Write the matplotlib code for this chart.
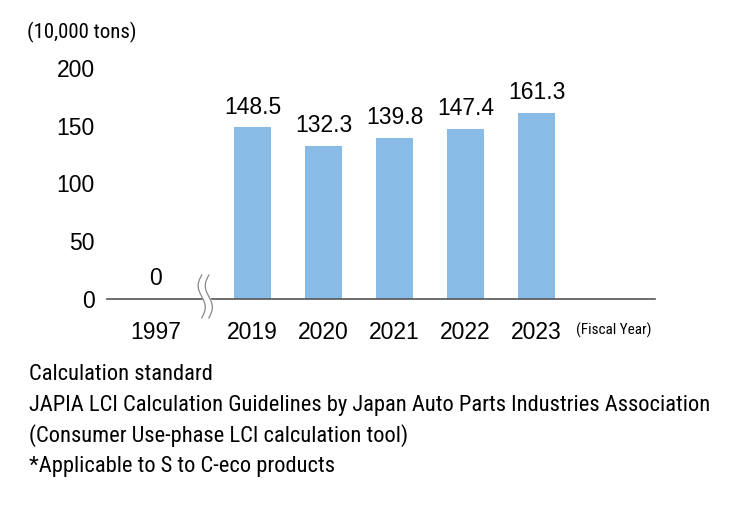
import numpy as np
import matplotlib
matplotlib.use("Agg")
import matplotlib.pyplot as plt

# data
years = ["1997", "2019", "2020", "2021", "2022", "2023"]
positions = [0, 1.37, 2.37, 3.37, 4.37, 5.37]
values = [0, 148.5, 132.3, 139.8, 147.4, 161.3]
value_labels = ["0", "148.5", "132.3", "139.8", "147.4", "161.3"]
yticks = [0, 50, 100, 150, 200]
notes = [
    "Calculation standard",
    "JAPIA LCI Calculation Guidelines by Japan Auto Parts Industries Association",
    "(Consumer Use-phase LCI calculation tool)",
    "*Applicable to S to C-eco products",
]

# condensed face for words, Arial-like face for numbers
plt.rcParams["font.family"] = ["Roboto Condensed", "DejaVu Sans"]
num_font = ["Liberation Sans", "DejaVu Sans"]

W, H = 732, 526
fig = plt.figure(figsize=(W / 100, H / 100), dpi=100)
ax = fig.add_axes([107 / W, 1 - 299 / H, (655 - 107) / W, (299 - 68) / H])

bar_color = "#88bbe6"
ax.bar(positions[1:], values[1:], width=0.51, color=bar_color, zorder=2)
ax.set_xlim(-0.68, 7.04)
ax.set_ylim(0, 200)

for s in ["top", "right", "left"]:
    ax.spines[s].set_visible(False)
ax.spines["bottom"].set_color("#555555")
ax.spines["bottom"].set_linewidth(1.2)

ax.set_yticks(yticks, [str(t) for t in yticks], fontsize=16.5, family=num_font)
ax.tick_params(axis="y", length=0, pad=9)
ax.set_xticks(positions, years, fontsize=16.5, family=num_font)
ax.tick_params(axis="x", length=0, pad=16)

for x, v, lab in zip(positions, values, value_labels):
    ax.text(x, v + 12, lab, ha="center", va="baseline", fontsize=16.5, family=num_font)

# axis break mark (two wavy strokes, white gap between them)
bx = (205 - 155) / 71
t = np.linspace(-19, 24, 80)
wave = 0.05 * np.sin((t + 19) / 43 * 2 * np.pi)
trans = ax.get_xaxis_transform()
yy = t / (299 - 68)
left = bx - 0.05 + wave
right = bx + 0.05 + wave
ax.fill_betweenx(yy, left, right, color="white", transform=trans, zorder=3, clip_on=False)
ax.plot(left, yy, color="#888888", lw=0.9, transform=trans, zorder=4, clip_on=False)
ax.plot(right, yy, color="#888888", lw=0.9, transform=trans, zorder=4, clip_on=False)

fig.text(27 / W, 1 - 32 / H, "(10,000 tons)", fontsize=15, va="center", ha="left")
fig.text(576 / W, 1 - 330 / H, "(Fiscal Year)", fontsize=11, va="center", ha="left")

for i, line in enumerate(notes):
    fig.text(29 / W, 1 - (375 + 30.5 * i) / H, line, fontsize=16.2, va="center", ha="left")

fig.savefig("out.png", dpi=100)
